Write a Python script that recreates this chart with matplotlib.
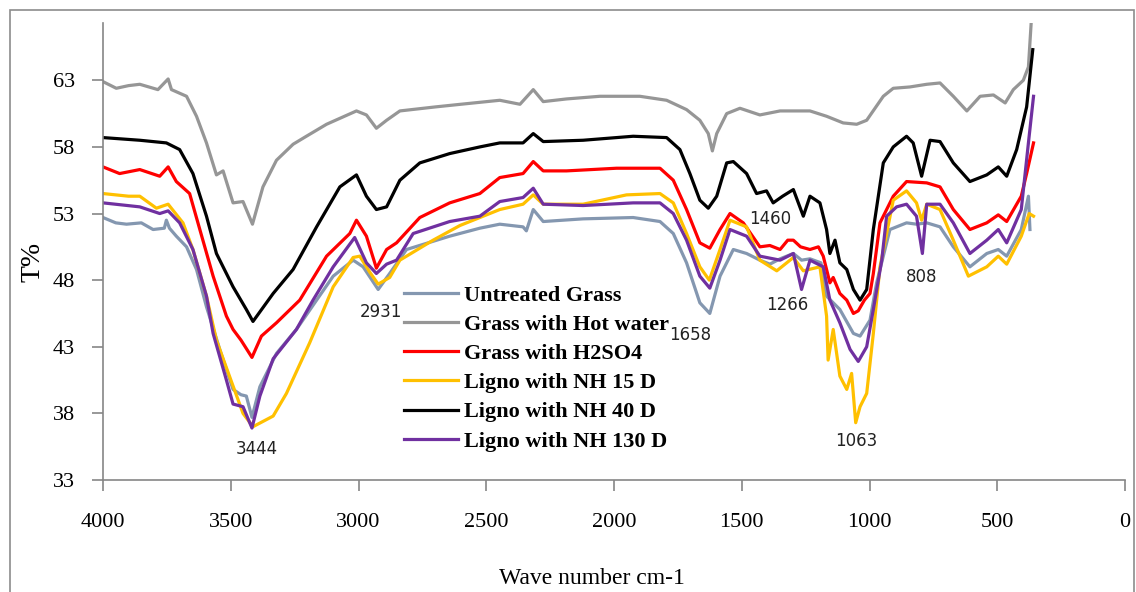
import matplotlib
matplotlib.use("Agg")
import matplotlib.pyplot as plt
from matplotlib.patches import Rectangle

# ---------------- data ----------------
untreated_w = [4000, 3950, 3908, 3850, 3804, 3760, 3752, 3740, 3713, 3673, 3634, 3595, 3543, 3491, 3460,
               3439, 3417, 3386, 3321, 3243, 3164, 3099, 3021, 2982, 2923, 2878, 2812, 2643, 2525, 2447,
               2356, 2343, 2316, 2277, 2121, 1925, 1820, 1768, 1716, 1664, 1625, 1585, 1533, 1481, 1429,
               1390, 1350, 1298, 1266, 1233, 1190, 1168, 1116, 1063, 1037, 998, 972, 933, 920, 855, 816,
               776, 724, 672, 607, 541, 496, 463, 406, 378, 372]
untreated_t = [52.7, 52.3, 52.2, 52.3, 51.8, 51.9, 52.5, 51.9, 51.3, 50.5, 48.8, 46.0, 42.8, 39.8, 39.4,
               39.3, 37.7, 40.0, 42.5, 44.3, 46.5, 48.3, 49.5, 49.0, 47.3, 48.5, 50.3, 51.3, 51.9, 52.2,
               52.0, 51.7, 53.3, 52.4, 52.6, 52.7, 52.4, 51.5, 49.3, 46.3, 45.5, 48.3, 50.3, 50.0, 49.5,
               49.2, 49.6, 50.0, 49.5, 49.6, 49.3, 46.8, 45.8, 44.0, 43.8, 45.0, 47.8, 50.8, 51.8, 52.3, 52.2,
               52.3, 52.0, 50.5, 49.0, 50.0, 50.3, 49.8, 51.8, 54.3, 51.8]

hotwater_w = [4000, 3948, 3900, 3856, 3785, 3745, 3732, 3673, 3634, 3595, 3556, 3530, 3491, 3452, 3415,
              3374, 3321, 3256, 3204, 3125, 3008, 2969, 2930, 2890, 2838, 2700, 2600, 2447, 2368, 2316,
              2277, 2186, 2055, 1899, 1794, 1716, 1664, 1631, 1615, 1598, 1559, 1507, 1429, 1350, 1325,
              1233, 1168, 1103, 1050, 1011, 946, 907, 842, 776, 724, 672, 619, 567, 515, 469, 437, 398,
              378, 365]
hotwater_t = [62.9, 62.4, 62.6, 62.7, 62.3, 63.1, 62.3, 61.8, 60.3, 58.3, 55.9, 56.2, 53.8, 53.9, 52.2,
              55.0, 57.0, 58.2, 58.8, 59.7, 60.7, 60.4, 59.4, 60.0, 60.7, 61.0, 61.2, 61.5, 61.2, 62.3,
              61.4, 61.6, 61.8, 61.8, 61.5, 60.8, 60.0, 59.0, 57.7, 59.0, 60.5, 60.9, 60.4, 60.7, 60.7,
              60.7, 60.3, 59.8, 59.7, 60.0, 61.8, 62.4, 62.5, 62.7, 62.8, 61.8, 60.7, 61.8, 61.9, 61.3,
              62.3, 63.0, 64.0, 68.0]

h2so4_w = [4000, 3935, 3856, 3778, 3745, 3713, 3661, 3621, 3569, 3517, 3491, 3460, 3417, 3380, 3321,
           3230, 3125, 3034, 3008, 2969, 2930, 2890, 2851, 2760, 2643, 2525, 2447, 2356, 2316, 2277,
           2186, 1990, 1820, 1768, 1716, 1664, 1625, 1585, 1546, 1494, 1429, 1390, 1350, 1320, 1298,
           1270, 1233, 1200, 1181, 1155, 1142, 1116, 1089, 1063, 1044, 1020, 998, 985, 959, 907, 855,
           776, 724, 672, 607, 541, 496, 463, 406, 385, 358]
h2so4_t = [56.5, 56.0, 56.3, 55.8, 56.5, 55.4, 54.5, 51.8, 48.3, 45.3, 44.3, 43.5, 42.2, 43.8, 44.8,
           46.5, 49.8, 51.5, 52.5, 51.3, 48.9, 50.3, 50.8, 52.7, 53.8, 54.5, 55.7, 56.0, 56.9, 56.2,
           56.2, 56.4, 56.4, 55.5, 53.3, 50.8, 50.4, 51.8, 53.0, 52.3, 50.5, 50.6, 50.3, 51.0, 51.0,
           50.5, 50.3, 50.5, 49.8, 47.8, 48.2, 47.0, 46.5, 45.5, 45.7, 46.5, 47.0, 48.5, 52.3, 54.3, 55.4,
           55.3, 55.0, 53.3, 51.8, 52.3, 52.9, 52.4, 54.3, 56.0, 58.3]

nh15_w = [4000, 3900, 3856, 3791, 3745, 3687, 3648, 3595, 3556, 3543, 3452, 3413, 3334, 3282, 3191,
          3099, 3021, 2995, 2956, 2923, 2878, 2838, 2708, 2603, 2447, 2356, 2316, 2277, 2121, 1951,
          1820, 1768, 1716, 1664, 1627, 1585, 1546, 1481, 1429, 1363, 1298, 1259, 1194, 1168, 1162,
          1142, 1116, 1089, 1070, 1054, 1037, 1011, 985, 959, 933, 907, 855, 816, 796, 776, 724, 672,
          613, 541, 496, 463, 406, 375, 358]
nh15_t = [54.5, 54.3, 54.3, 53.4, 53.7, 52.3, 50.3, 46.8, 43.5, 42.8, 38.0, 37.0, 37.8, 39.5, 43.3,
          47.5, 49.7, 49.8, 48.6, 47.7, 48.2, 49.5, 51.0, 52.1, 53.3, 53.7, 54.4, 53.7, 53.7, 54.4,
          54.5, 53.8, 51.5, 49.0, 48.0, 50.3, 52.5, 52.0, 49.5, 48.7, 49.7, 48.7, 49.0, 45.3, 42.0,
          44.3, 40.8, 39.8, 41.0, 37.3, 38.5, 39.5, 44.0, 49.0, 51.5, 54.0, 54.7, 53.8, 52.5, 53.7, 53.3,
          51.0, 48.3, 49.0, 49.8, 49.2, 51.3, 53.0, 52.8]

nh40_w = [4000, 3856, 3752, 3700, 3648, 3595, 3556, 3491, 3439, 3413, 3334, 3256, 3164, 3073, 3008,
          2969, 2930, 2890, 2838, 2760, 2643, 2525, 2447, 2356, 2316, 2277, 2121, 1925, 1794, 1742,
          1703, 1664, 1631, 1598, 1559, 1533, 1481, 1442, 1403, 1377, 1340, 1298, 1259, 1233, 1194,
          1168, 1155, 1135, 1116, 1089, 1063, 1037, 1011, 985, 946, 907, 855, 829, 796, 763, 724, 672,
          607, 541, 496, 463, 424, 385, 361]
nh40_t = [58.7, 58.5, 58.3, 57.8, 56.0, 52.8, 50.0, 47.5, 45.8, 44.9, 47.0, 48.8, 52.0, 55.0, 55.9,
          54.3, 53.3, 53.5, 55.5, 56.8, 57.5, 58.0, 58.3, 58.3, 59.0, 58.4, 58.5, 58.8, 58.7, 57.8,
          56.0, 54.0, 53.4, 54.3, 56.8, 56.9, 56.0, 54.5, 54.7, 53.8, 54.3, 54.8, 52.8, 54.3, 53.8,
          51.8, 50.0, 51.0, 49.3, 48.8, 47.3, 46.5, 47.3, 51.8, 56.8, 58.0, 58.8, 58.3, 55.8, 58.5, 58.4,
          56.8, 55.4, 55.9, 56.5, 55.8, 57.8, 61.0, 65.3]

nh130_w = [4000, 3856, 3778, 3745, 3700, 3648, 3595, 3569, 3517, 3491, 3452, 3417, 3386, 3334, 3243,
           3178, 3099, 3015, 2969, 2930, 2890, 2851, 2786, 2643, 2525, 2447, 2356, 2316, 2277, 2121,
           1925, 1820, 1768, 1716, 1664, 1625, 1585, 1546, 1481, 1429, 1350, 1298, 1266, 1233, 1181,
           1155, 1116, 1076, 1044, 1011, 985, 952, 933, 894, 855, 816, 793, 776, 724, 672, 607, 541,
           496, 463, 406, 378, 358]
nh130_t = [53.8, 53.5, 53.0, 53.2, 52.3, 50.3, 46.8, 44.0, 40.5, 38.7, 38.5, 36.9, 39.3, 42.1, 44.3,
           46.5, 49.0, 51.2, 49.3, 48.5, 49.2, 49.5, 51.5, 52.4, 52.8, 53.9, 54.2, 54.9, 53.7, 53.6,
           53.8, 53.8, 53.0, 51.0, 48.3, 47.4, 49.5, 51.8, 51.3, 49.8, 49.5, 50.0, 47.3, 49.5, 49.0,
           46.5, 44.8, 42.8, 41.9, 43.0, 45.8, 49.5, 52.8, 53.5, 53.7, 52.8, 50.0, 53.7, 53.7, 52.3,
           50.0, 51.0, 51.8, 50.8, 53.3, 58.3, 61.8]

series_labels = ["Untreated Grass", "Grass with Hot water", "Grass with H2SO4",
                 "Ligno with NH 15 D", "Ligno with NH 40 D", "Ligno with NH 130 D"]
series_colors = ["#8497B0", "#969696", "#FF0000", "#FFC000", "#000000", "#7030A0"]

peak_labels = ["3444", "2931", "1658", "1460", "1266", "1063", "808"]
peak_w = [3398, 2913, 1703, 1390, 1320, 1052, 796]
peak_t = [35.3, 45.6, 43.9, 52.6, 46.1, 35.9, 48.2]

x_ticks = [4000, 3500, 3000, 2500, 2000, 1500, 1000, 500, 0]
y_ticks = [33, 38, 43, 48, 53, 58, 63]

# ---------------- figure ----------------
W, H = 1136, 592
fig = plt.figure(figsize=(W / 100, H / 100), dpi=100)
fig.patch.set_facecolor("white")

# outer frame
fig.patches.append(Rectangle((10 / W, -0.05), (1134 - 10) / W, 1 - 10 / H + 0.05,
                             transform=fig.transFigure, fill=False,
                             edgecolor="#8c8c8c", linewidth=1.2))

L, R, B, T = 103, 1125, 480, 23
ax = fig.add_axes([L / W, 1 - B / H, (R - L) / W, (B - T) / H])

data = [(untreated_w, untreated_t), (hotwater_w, hotwater_t), (h2so4_w, h2so4_t),
        (nh15_w, nh15_t), (nh40_w, nh40_t), (nh130_w, nh130_t)]
for (w, t), lab, col in zip(data, series_labels, series_colors):
    ax.plot(w, t, color=col, lw=2.3, label=lab, solid_joinstyle="round")

ax.set_xlim(4000, 0)
ax.set_ylim(33, 67.3)
ax.set_xticks(x_ticks)
ax.set_yticks(y_ticks)

serif = "Liberation Serif"
for s in ["top", "right"]:
    ax.spines[s].set_visible(False)
for s in ["left", "bottom"]:
    ax.spines[s].set_color("#868686")
    ax.spines[s].set_linewidth(1.2)
ax.tick_params(axis="both", direction="out", length=8, color="#868686", width=1.2,
               labelsize=16)
ax.tick_params(axis="x", pad=16)
ax.tick_params(axis="y", pad=12)
for lbl in ax.get_xticklabels() + ax.get_yticklabels():
    lbl.set_fontfamily(serif)

fig.text(33 / W, 1 - 262 / H, "T%", rotation=90, ha="center", va="center",
         fontsize=20, family=serif)
fig.text(592 / W, 1 - 578 / H, "Wave number cm-1", ha="center", va="center",
         fontsize=17, family=serif)

for lab, w, t in zip(peak_labels, peak_w, peak_t):
    ax.text(w, t, lab, ha="center", va="center", fontsize=12,
            family="DejaVu Sans", color="#222222")

leg = ax.legend(loc="upper left", bbox_to_anchor=((404 - L) / (R - L), (B - 285) / (B - T)),
                frameon=False, prop={"family": serif, "weight": "bold", "size": 16},
                handlelength=2.45, handletextpad=0.25, labelspacing=0.39,
                borderpad=0, borderaxespad=0)

fig.savefig("out.png", dpi=100)
